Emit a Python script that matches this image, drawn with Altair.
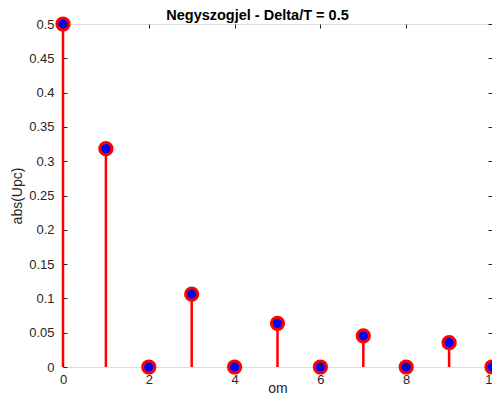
import altair as alt
import pandas as pd

om = [0, 1, 2, 3, 4, 5, 6, 7, 8, 9, 10]
abs_upc = [0.5, 0.3183, 0.0, 0.1061, 0.0, 0.0637, 0.0, 0.0455, 0.0, 0.0354, 0.0]
x_ticks = [0, 2, 4, 6, 8, 10]
y_ticks = [0, 0.05, 0.1, 0.15, 0.2, 0.25, 0.3, 0.35, 0.4, 0.45, 0.5]

df = pd.DataFrame({"om": om, "val": abs_upc})

FONT = "Liberation Sans"
AX = "#262626"

xscale = alt.Scale(domain=[0, 10], nice=False, zero=False)
yscale = alt.Scale(domain=[0, 0.5], nice=False, zero=False)

x_bottom = alt.Axis(orient="bottom", values=x_ticks, title="om", domain=False, grid=False,
                    offset=-4, tickSize=4, tickColor=AX, labelPadding=6, labelFontSize=13,
                    labelColor=AX, labelFont=FONT, titleFont=FONT, titleFontSize=14,
                    titleFontWeight="normal", titleColor=AX, titlePadding=6,
                    titleBaseline="alphabetic", zindex=1,
                    labelFlush=False, labelOverlap=False)
y_left = alt.Axis(orient="left", values=y_ticks, title="abs(Upc)", domain=False, grid=False,
                  offset=-4, tickSize=4, tickColor=AX, labelPadding=9, labelFontSize=13,
                  labelColor=AX, labelFont=FONT, titleFont=FONT, titleFontSize=14,
                  titleFontWeight="normal", titleColor=AX, titlePadding=4, zindex=1,
                  format="~g", labelFlush=False, labelOverlap=False)
x_top = alt.Axis(orient="top", values=x_ticks, title=None, labels=False, domain=False,
                 grid=False, offset=-4, tickSize=4, tickColor=AX, zindex=1)
y_right = alt.Axis(orient="right", values=y_ticks, title=None, labels=False, domain=False,
                   grid=False, offset=-4, tickSize=4, tickColor=AX, zindex=1)

base = alt.Chart(df)

stems = base.mark_rule(color="#ff0000", strokeWidth=2.5).encode(
    x=alt.X("om:Q", scale=xscale, axis=x_top),
    y=alt.Y("val:Q", scale=yscale, axis=y_right),
    y2=alt.datum(0),
)

points = base.mark_point(shape="circle", filled=False, fill="#0000ff", fillOpacity=1,
                         stroke="#ff0000", strokeWidth=3, size=150, opacity=1).encode(
    x=alt.X("om:Q", scale=xscale, axis=x_bottom),
    y=alt.Y("val:Q", scale=yscale, axis=y_left),
)

chart = alt.layer(stems, points).resolve_axis(x="independent", y="independent").properties(
    width=429,
    height=343,
    autosize=alt.AutoSizeParams(type="none"),
    padding={"left": 55, "top": 16, "right": 0, "bottom": 27},
    title=alt.TitleParams("Negyszogjel - Delta/T = 0.5", font=FONT, fontSize=14.5,
                          fontWeight="bold", color="#000000", anchor="middle",
                          frame="group", baseline="alphabetic", offset=-23, dx=-20),
).configure_view(stroke=AX, strokeWidth=1).configure(background="white")

chart.save("out.html", embed_options={"renderer": "svg", "actions": False})
